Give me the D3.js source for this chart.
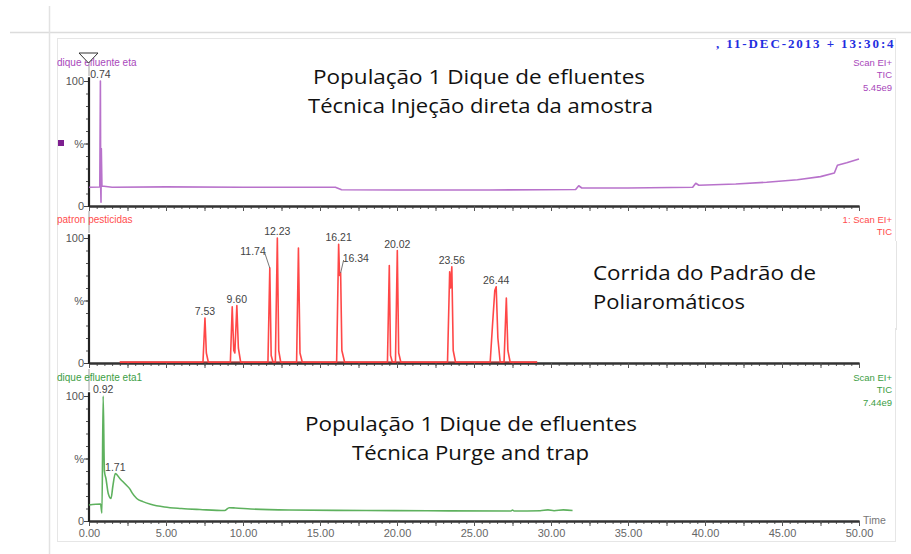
<!DOCTYPE html>
<html>
<head>
<meta charset="utf-8">
<script src="https://cdn.jsdelivr.net/npm/d3@7"></script>
<style>
  html, body { margin: 0; padding: 0; background: #fff; }
  svg { display: block; }
</style>
</head>
<body>
<svg id="chart" width="911" height="554"></svg>
<script>
// ---- data ---------------------------------------------------------------
const timeTicks = [0, 5, 10, 15, 20, 25, 30, 35, 40, 45, 50];
const timeTickLabels = ["0.00", "5.00", "10.00", "15.00", "20.00", "25.00", "30.00", "35.00", "40.00", "45.00", "50.00"];
const intensityTicks = [0, 50, 100];
const intensityTickLabels = ["0", "%", "100"];

const traceNames = ["dique efluente eta", "patron pesticidas", "dique efluente eta1"];
const scanInfo = [
  ["Scan EI+", "TIC", "5.45e9"],
  ["1: Scan EI+", "TIC", "4.26e9"],
  ["Scan EI+", "TIC", "7.44e9"]
];
const notes = [
  ["População 1 Dique de efluentes", "Técnica Injeção direta da amostra"],
  ["Corrida do Padrão  de", "Poliaromáticos"],
  ["População 1 Dique de efluentes", "Técnica Purge and trap"]
];
const runStamp = ",  11-DEC-2013 + 13:30:47";

// [time (min), relative intensity (%)]
const effluentDirect = [
  [0, 15], [0.70, 15.2], [0.74, 100], [0.76, 15], [0.78, 3], [0.80, 46], [0.84, 16],
  [1.5, 15], [5, 15.3], [10, 15], [16.0, 15], [16.4, 13], [20, 12.8], [26, 12.8],
  [31.6, 13.2], [31.8, 16.2], [32.0, 14.4], [35, 14.4], [39.2, 15], [39.4, 18.2],
  [39.6, 16.6], [42, 17.6], [44, 19], [46, 21], [47.5, 23.5], [48.4, 26.4],
  [48.6, 32.6], [49.2, 34.6], [50, 37.6]
];
const standardRun = [
  [2.0, 0.6], [7.40, 0.6], [7.53, 36], [7.62, 8], [7.75, 0.6],
  [9.18, 0.6], [9.30, 45], [9.40, 10], [9.47, 8], [9.60, 46], [9.70, 12], [9.85, 0.6],
  [11.62, 0.6], [11.74, 76], [11.83, 6], [11.95, 0.6],
  [12.10, 0.6], [12.23, 100], [12.32, 10], [12.45, 0.6],
  [13.48, 0.6], [13.60, 92], [13.70, 8], [13.85, 0.6],
  [16.08, 0.6], [16.21, 95], [16.27, 70], [16.34, 72], [16.42, 10], [16.60, 0.6],
  [19.38, 0.6], [19.50, 78], [19.58, 6], [19.70, 0.6],
  [19.90, 0.6], [20.02, 90], [20.11, 8], [20.25, 0.6],
  [23.28, 0.6], [23.42, 73], [23.48, 60], [23.56, 77], [23.65, 10], [23.80, 0.6],
  [26.05, 0.6], [26.20, 30], [26.35, 58], [26.44, 61], [26.55, 20], [26.70, 0.6],
  [26.95, 0.6], [27.02, 25], [27.10, 52], [27.20, 10], [27.35, 0.6],
  [29.1, 0.6]
];
const effluentPurge = [
  [0, 12.8], [0.75, 13.6], [0.84, 6.4], [0.92, 100], [1.0, 40], [1.1, 34], [1.25, 22],
  [1.43, 18], [1.55, 28], [1.71, 38], [2.0, 34], [2.4, 29], [2.66, 25.5], [2.8, 22.5],
  [3.1, 18], [3.5, 15.5], [4.0, 13.4], [4.9, 11.2], [6.0, 10], [7.2, 9.2], [8.8, 8.4],
  [9.1, 10.6], [9.5, 10.4], [10.5, 9.6], [13, 8.8], [18, 8.4], [22, 8.2], [27.4, 8],
  [27.5, 8.8], [27.6, 8], [29.3, 8.2], [29.8, 8.9], [30.2, 8.2], [30.8, 8.9], [31.4, 8.4]
];

const directPeaks = [{ t: 0.74, v: 100, label: "0.74" }];
const standardPeaks = [
  { t: 7.53, v: 36, label: "7.53" },
  { t: 9.60, v: 46, label: "9.60" },
  { t: 11.74, v: 76, label: "11.74" },
  { t: 12.23, v: 100, label: "12.23" },
  { t: 16.21, v: 95, label: "16.21" },
  { t: 16.34, v: 72, label: "16.34" },
  { t: 20.02, v: 90, label: "20.02" },
  { t: 23.56, v: 77, label: "23.56" },
  { t: 26.44, v: 61, label: "26.44" }
];
const purgePeaks = [
  { t: 0.92, v: 100, label: "0.92" },
  { t: 1.71, v: 38, label: "1.71" }
];

// ---- layout -------------------------------------------------------------
const svg = d3.select("#chart");
const W = 911, H = 554;
const x = d3.scaleLinear().domain([0, 50]).range([89, 859]);

const panels = [
  { trace: effluentDirect, peaks: directPeaks, color: "#b46ac8", text: "#a948bb", bottom: 206, top: 81, curve: d3.curveLinear },
  { trace: standardRun, peaks: standardPeaks, color: "#ff3d3d", text: "#ff4d4d", bottom: 363, top: 238, curve: d3.curveLinear },
  { trace: effluentPurge, peaks: purgePeaks, color: "#55ad55", text: "#3d9e45", bottom: 521, top: 396, curve: d3.curveMonotoneX }
];
// labels that sit beside their peak, with a short leader line
const labelShift = { "11.74": { dx: -14, dy: -10, leader: true }, "16.34": { dx: 13, dy: -8, leader: true } };

// page frame
svg.append("rect").attr("width", W).attr("height", H).attr("fill", "#fff");
svg.append("line").attr("x1", 10).attr("x2", W).attr("y1", 32.5).attr("y2", 32.5)
  .attr("stroke", "#dcdcdc").attr("stroke-width", 1.5);
svg.append("line").attr("x1", 49.5).attr("x2", 49.5).attr("y1", 6).attr("y2", H)
  .attr("stroke", "#e2e2e2").attr("stroke-width", 1.5);
svg.append("rect").attr("x", 57.5).attr("y", 38.5).attr("width", 838).attr("height", 503)
  .attr("fill", "none").attr("stroke", "#e6e6e6");

// run stamp
const stampClip = svg.append("defs").append("clipPath").attr("id", "stampClip");
stampClip.append("rect").attr("x", 600).attr("y", 30).attr("width", 296).attr("height", 25);
svg.append("text").attr("clip-path", "url(#stampClip)")
  .attr("x", 716).attr("y", 48)
  .attr("font-family", "Liberation Serif, serif").attr("font-weight", "bold")
  .attr("font-size", 13).attr("fill", "#1f2ee0")
  .attr("textLength", 186).attr("lengthAdjust", "spacing")
  .text(runStamp);

panels.forEach((p, i) => {
  const y = d3.scaleLinear().domain([0, 100]).range([p.bottom, p.top]);
  const g = svg.append("g");
  const headY = p.top - 19;

  // thin guide above the intensity axis
  g.append("line").attr("x1", 89).attr("x2", 89).attr("y1", headY - 8).attr("y2", y(104))
    .attr("stroke", "#a0a0a0").attr("stroke-width", 1);

  // x axis: minor, intermediate and labelled ticks
  const xMinor = d3.axisBottom(x).tickValues(d3.range(0, 50.01, 0.5)).tickSize(3).tickFormat("").tickSizeOuter(0);
  const xMid = d3.axisBottom(x).tickValues(d3.range(0, 50.01, 2.5)).tickSize(5).tickFormat("").tickSizeOuter(0);
  [xMinor, xMid].forEach(a => {
    const ax = g.append("g").attr("transform", `translate(0,${p.bottom})`).call(a);
    ax.select(".domain").attr("stroke", "#333").attr("stroke-width", 2);
    ax.selectAll(".tick line").attr("stroke", "#555");
  });
  if (i === 2) {
    const xLab = d3.axisBottom(x).tickValues(timeTicks).tickSize(0)
      .tickFormat((d, k) => timeTickLabels[k]);
    const ax = g.append("g").attr("transform", `translate(0,${p.bottom})`).call(xLab);
    ax.select(".domain").remove();
    ax.selectAll("text").attr("dy", "1.2em").attr("font-family", "Liberation Sans, Arial, sans-serif")
      .attr("font-size", 11).attr("fill", "#666");
    g.append("text").attr("x", 863).attr("y", p.bottom + 3)
      .attr("font-family", "Liberation Sans, Arial, sans-serif").attr("font-size", 10.5)
      .attr("fill", "#777").text("Time");
  }

  // y axis
  const yMinor = d3.axisLeft(y).tickValues(d3.range(0, 100.1, 10)).tickSize(3).tickFormat("").tickSizeOuter(0);
  const yMajor = d3.axisLeft(y).tickValues(intensityTicks).tickSize(5)
    .tickFormat((d, k) => intensityTickLabels[k]).tickSizeOuter(0);
  g.append("g").attr("transform", "translate(89,0)").call(yMinor)
    .call(a => a.select(".domain").remove())
    .selectAll(".tick line").attr("stroke", "#555");
  const ya = g.append("g").attr("transform", "translate(89,0)").call(yMajor);
  ya.select(".domain").remove();
  ya.selectAll(".tick line").attr("stroke", "#444");
  ya.selectAll("text").attr("font-family", "Liberation Sans, Arial, sans-serif")
    .attr("font-size", 11).attr("fill", "#555").attr("x", -5);
  g.append("line").attr("x1", 89).attr("x2", 89).attr("y1", y(103)).attr("y2", p.bottom + 1)
    .attr("stroke", "#222").attr("stroke-width", 2.2);

  // trace
  const line = d3.line().x(d => x(d[0])).y(d => y(d[1])).curve(p.curve);
  if (i === 1) {
    // baseline of the standard run rides on the axis
    g.append("line").attr("x1", x(2)).attr("x2", x(29.1)).attr("y1", p.bottom - 1).attr("y2", p.bottom - 1)
      .attr("stroke", "#b02020").attr("stroke-width", 1.4).attr("opacity", 0.8);
  }
  g.append("path").datum(p.trace).attr("d", line)
    .attr("fill", "none").attr("stroke", p.color).attr("stroke-width", 1.6)
    .attr("stroke-linejoin", "round").attr("opacity", 0.95);

  // peak labels
  p.peaks.forEach(pk => {
    const s = labelShift[pk.label] || { dx: 0, dy: 0 };
    const px = x(pk.t), py = y(pk.v);
    const lx = px + s.dx, ly = py - 3 + s.dy;
    if (s.leader) {
      const ex = s.dx < 0 ? lx + 9 : lx - 10;
      g.append("line").attr("x1", px).attr("y1", py).attr("x2", ex).attr("y2", ly - 2)
        .attr("stroke", "#555").attr("stroke-width", 0.8);
    }
    g.append("text").attr("x", s.dx < 0 ? lx + 10 : (s.dx > 0 ? lx - 11 : lx)).attr("y", ly)
      .attr("text-anchor", s.dx < 0 ? "end" : (s.dx > 0 ? "start" : "middle"))
      .attr("font-family", "Liberation Sans, Arial, sans-serif").attr("font-size", 10.5)
      .attr("fill", "#444").text(pk.label);
  });

  // trace name and scan info
  g.append("text").attr("x", 57).attr("y", headY + 4)
    .attr("font-family", "Liberation Sans, Arial, sans-serif").attr("font-size", 10)
    .attr("fill", p.text).text(traceNames[i]);
  scanInfo[i].forEach((s, k) => {
    g.append("text").attr("x", 892).attr("y", headY + 4 + k * 12.3).attr("text-anchor", "end")
      .attr("font-family", "Liberation Sans, Arial, sans-serif").attr("font-size", 9.5)
      .attr("fill", p.text).text(s);
  });
});

// marker beside the first trace
svg.append("rect").attr("x", 58).attr("y", 140).attr("width", 6).attr("height", 6).attr("fill", "#7d1f8f");
// peak marker at the head of the first trace axis
svg.append("path").attr("d", "M79,53 L98,53 L88.5,63 Z")
  .attr("fill", "#fff").attr("stroke", "#333").attr("stroke-width", 1);

// annotation text box over the standard run
svg.append("rect").attr("x", 575).attr("y", 241).attr("width", 322).attr("height", 87).attr("fill", "#fff");
svg.append("line").attr("x1", 896.5).attr("x2", 896.5).attr("y1", 241).attr("y2", 330)
  .attr("stroke", "#e4e4e4");

// annotations
const notePos = [
  [[313, 84, 332], [308, 113, 345]],
  [[593, 280, 223], [593, 309, 152]],
  [[305, 431, 332], [352, 460, 237]]
];
notes.forEach((pair, i) => {
  pair.forEach((t, k) => {
    const [nx, ny, len] = notePos[i][k];
    svg.append("text").attr("x", nx).attr("y", ny)
      .attr("font-family", "Open Sans, Noto Sans, sans-serif").attr("font-size", 20)
      .attr("fill", "#111").attr("textLength", len).attr("lengthAdjust", "spacingAndGlyphs")
      .text(t);
  });
});
</script>
</body>
</html>
